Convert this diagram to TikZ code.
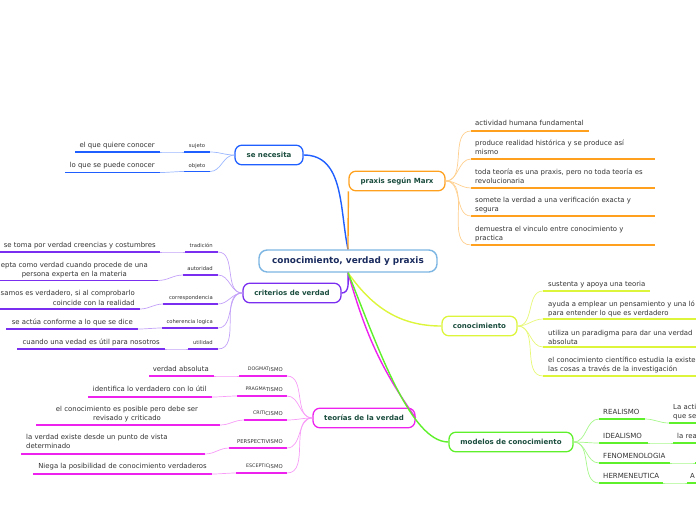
\documentclass[tikz,border=0pt]{standalone}
\usepackage{fontspec}
\setmainfont{DejaVu Sans}

\definecolor{titlecol}{HTML}{1B4D3E}
\definecolor{rootcol}{HTML}{1A2B5E}
\definecolor{textcol}{HTML}{333333}
\definecolor{rootline}{HTML}{7DB6E3}
\definecolor{bluecol}{HTML}{1F5EFF}
\definecolor{purplecol}{HTML}{7A2EF0}
\definecolor{magcol}{HTML}{EE22EE}
\definecolor{orangecol}{HTML}{FFA11F}
\definecolor{limecol}{HTML}{DDF53B}
\definecolor{greencol}{HTML}{5EF02A}

\newcommand{\ismlabel}[2]{\raisebox{1pt}{\fontsize{4.1}{4.5}\selectfont #1}#2}

\tikzset{
  root/.style={draw=rootline, line width=1.2pt, rounded corners=7pt, fill=white, text=rootcol,
    font=\fontsize{7.6}{9}\selectfont\bfseries, minimum width=5.34cm, minimum height=0.66cm, inner sep=1pt},
  topic/.style={draw=#1, line width=1.1pt, rounded corners=6pt, fill=white, text=titlecol,
    font=\fontsize{6}{7}\selectfont\bfseries, minimum height=0.59cm, inner sep=1pt},
  leaf/.style={text=textcol, font=\fontsize{5.9}{7.7}\selectfont, inner sep=0pt},
  tag/.style={text=textcol, font=\fontsize{4.5}{5}\selectfont, inner sep=0pt},
  model/.style={text=textcol, font=\fontsize{6}{7}\selectfont, inner sep=0pt},
  under/.style={draw=#1, line width=1.5pt},
  branch/.style={draw=#1, line width=1.2pt},
  twig/.style={draw=#1, line width=0.6pt},
}

\begin{document}
\begin{tikzpicture}[x=0.03cm, y=-0.03cm]
\useasboundingbox (0,0) rectangle (696,520);

% central topic
\node[root] (root) at (348,261) {conocimiento, verdad y praxis};

% main topics
\node[topic=bluecol, minimum width=2.04cm] (nec) at (269,155) {se necesita};
\node[topic=orangecol, minimum width=2.88cm] (praxis) at (397,181) {praxis según Marx};
\node[topic=purplecol, minimum width=2.94cm] (crit) at (292,293) {criterios de verdad};
\node[topic=limecol, minimum width=2.25cm] (conoc) at (479.5,326) {conocimiento};
\node[topic=magcol, minimum width=3.06cm] (teo) at (364,418) {teorías de la verdad};
\node[topic=greencol, minimum width=3.72cm] (model) at (511,442) {modelos de conocimiento};

% branches from the centre
\draw[branch=bluecol] (root.north) to[out=102,in=0] (nec.east);
\draw[branch=orangecol] (root.north) to[out=90,in=-90] (praxis.south west);
\draw[branch=purplecol] (root.south) to[out=-90,in=0] (crit.east);
\draw[branch=limecol] (root.south) to[out=-55,in=180] (conoc.west);
\draw[branch=magcol] (root.south) to[out=-74,in=125] (teo.east);
\draw[branch=greencol] (root.south) to[out=-68,in=180,in looseness=0.5] (model.west);

% se necesita
\foreach \i/\y/\t in {1/152/sujeto, 2/171.5/objeto}{
  \node[tag, anchor=base] (nectag\i) at (197,\y-4.5) {\t};
  \draw[under=bluecol] (184,\y) coordinate (necL\i) -- (210,\y) coordinate (necR\i);
  \draw[twig=bluecol!45] (nec.west) to[out=180,in=0] (necR\i);
}
\node[leaf, anchor=base east] (quiere) at (155,147.5) {el que quiere conocer};
\draw[under=bluecol] (75,152) -- (160,152) coordinate (nleafR1);
\node[leaf, anchor=base east] (puede) at (155,167) {lo que se puede conocer};
\draw[under=bluecol] (65,172.5) -- (160,172.5) coordinate (nleafR2);
\foreach \i in {1,2}
  \draw[twig=bluecol!45] (necL\i) to[out=180,in=0] (nleafR\i);

% criterios de verdad
\foreach \i/\y/\a/\t in {1/252/185/tradición, 2/275/183/autoridad, 3/304/163/correspondencia,
    4/328/162/coherencia logica, 5/349/188/utilidad}{
  \node[tag, anchor=base east] (crittag\i) at (213,\y-4.5) {\t};
  \draw[under=purplecol] (\a,\y) coordinate (critL\i) -- (218,\y) coordinate (critR\i);
  \draw[twig=purplecol!45] (crit.west) to[out=180,in=0] (critR\i);
}
\node[leaf, anchor=base east] (tradleaf) at (156,247.5) {se toma por verdad creencias y costumbres};
\draw[under=purplecol] (-10,252) -- (160,252) coordinate (cleafR1);
\node[leaf, anchor=base east, align=center] (autleaf) at (148,276.5) {epta como verdad cuando procede de una\\persona experta en la materia};
\draw[under=purplecol] (-10,280.5) -- (158,280.5) coordinate (cleafR2);
\node[leaf, anchor=base east, align=right] (corrleaf) at (135,305) {samos es verdadero, si al comprobarlo\\coincide con la realidad};
\draw[under=purplecol] (-10,309) -- (140,309) coordinate (cleafR3);
\node[leaf, anchor=base east] (cohleaf) at (133,324) {se actúa conforme a lo que se dice};
\draw[under=purplecol] (6,329) -- (138,329) coordinate (cleafR4);
\node[leaf, anchor=base east] (utileaf) at (160,344) {cuando una vedad es útil para nosotros};
\draw[under=purplecol] (17,349) -- (165,349) coordinate (cleafR5);
\foreach \i in {1,...,5}
  \draw[twig=purplecol!45] (critL\i) to[out=180,in=0] (cleafR\i);

% teorias de la verdad
\foreach \i/\y/\a/\t in {1/376/239/{\ismlabel{DOGMAT}{ISMO}}, 2/396/237/{\ismlabel{PRAGMA}{TISMO}},
    3/420/244/{\ismlabel{CRITI}{CISMO}}, 4/448/229/PERSPECTIVISMO, 5/473/236/{\ismlabel{ESCEPTIC}{ISMO}}}{
  \node[tag, anchor=base east] (teotag\i) at (283,\y-4.5) {\t};
  \draw[under=magcol] (\a,\y) coordinate (teoL\i) -- (287,\y) coordinate (teoR\i);
  \draw[twig=magcol!45] (teo.west) to[out=180,in=0] (teoR\i);
}
\node[leaf, anchor=base east] (dogleaf) at (209,371) {verdad absoluta};
\draw[under=magcol] (149,376) -- (214,376) coordinate (tleafR1);
\node[leaf, anchor=base east] (pragleaf) at (207,391.5) {identifica lo verdadero con lo útil};
\draw[under=magcol] (88,397) -- (212,397) coordinate (tleafR2);
\node[leaf, anchor=base, align=center] (critleaf) at (127,420.5) {el conocimiento es posible pero debe ser\\revisado y criticado};
\draw[under=magcol] (36,425) -- (220,425) coordinate (tleafR3);
\node[leaf, anchor=base west, align=left] (persleaf) at (26,448.5) {la verdad existe desde un punto de vista\\determinado};
\draw[under=magcol] (21,454) -- (205,454) coordinate (tleafR4);
\node[leaf, anchor=base east] (escleaf) at (207,468.5) {Niega la posibilidad de conocimiento verdaderos};
\draw[under=magcol] (33,474) -- (212,474) coordinate (tleafR5);
\foreach \i in {1,...,5}
  \draw[twig=magcol!45] (teoL\i) to[out=180,in=0] (tleafR\i);

% praxis segun Marx
\foreach \i/\y/\u/\r/\t in {1/125.5/131/589/{actividad humana fundamental},
    2/154.5/159/655/{produce realidad histórica y se produce así\\mismo},
    3/183.5/188/655/{toda teoría es una praxis, pero no toda teoría es\\revolucionaria},
    4/211.5/216/655/{somete la  verdad a una verificación exacta y\\segura},
    5/240.5/245/655/{demuestra el vinculo entre conocimiento y\\practica}}{
  \node[leaf, anchor=base west, align=left] (praxleaf\i) at (475,\y) {\t};
  \draw[under=orangecol] (471,\u) coordinate (pleafL\i) -- (\r,\u);
  \draw[twig=orangecol!50] (praxis.east) to[out=0,in=180] (pleafL\i);
}

% conocimiento
\foreach \i/\y/\u/\r/\t in {1/286.5/291/650/{sustenta y apoya una teoria},
    2/315.5/319/720/{ayuda a emplear un pensamiento y una ló\\para entender lo que es verdadero},
    3/344.5/347/720/{utiliza un paradigma para dar una verdad\\absoluta},
    4/371.5/376/720/{el conocimiento científico estudia la existe\\las cosas a través de la investigación}}{
  \node[leaf, anchor=base west, align=left] (conleaf\i) at (548,\y) {\t};
  \draw[under=limecol] (543,\u) coordinate (kleafL\i) -- (\r,\u);
  \draw[twig=limecol!70] (conoc.east) to[out=0,in=180] (kleafL\i);
}

% modelos de conocimiento
\foreach \i/\y/\r/\t in {1/419/645/REALISMO, 2/443/648/IDEALISMO, 3/463/670/FENOMENOLOGIA, 4/483/663/HERMENEUTICA}{
  \node[model, anchor=base west] (modtag\i) at (603,\y-5) {\t};
  \draw[under=greencol] (599,\y) coordinate (modL\i) -- (\r,\y) coordinate (modR\i);
  \draw[twig=greencol!55] (model.east) to[out=0,in=180] (modL\i);
}
\node[leaf, anchor=base west, align=left] (realleaf) at (673,418.5) {La acti\\que se};
\draw[under=greencol] (669,423) coordinate (mleafL1) -- (720,423);
\node[leaf, anchor=base west] (idealeaf) at (677,438.5) {la rea};
\draw[under=greencol] (673,443) coordinate (mleafL2) -- (720,443);
\draw[under=greencol] (695,463) coordinate (mleafL3) -- (720,463);
\node[leaf, anchor=base west] (hermleaf) at (690,478.5) {A};
\draw[under=greencol] (687,483) coordinate (mleafL4) -- (720,483);
\foreach \i in {1,...,4}
  \draw[twig=greencol!55] (modR\i) to[out=0,in=180] (mleafL\i);
\end{tikzpicture}
\end{document}
